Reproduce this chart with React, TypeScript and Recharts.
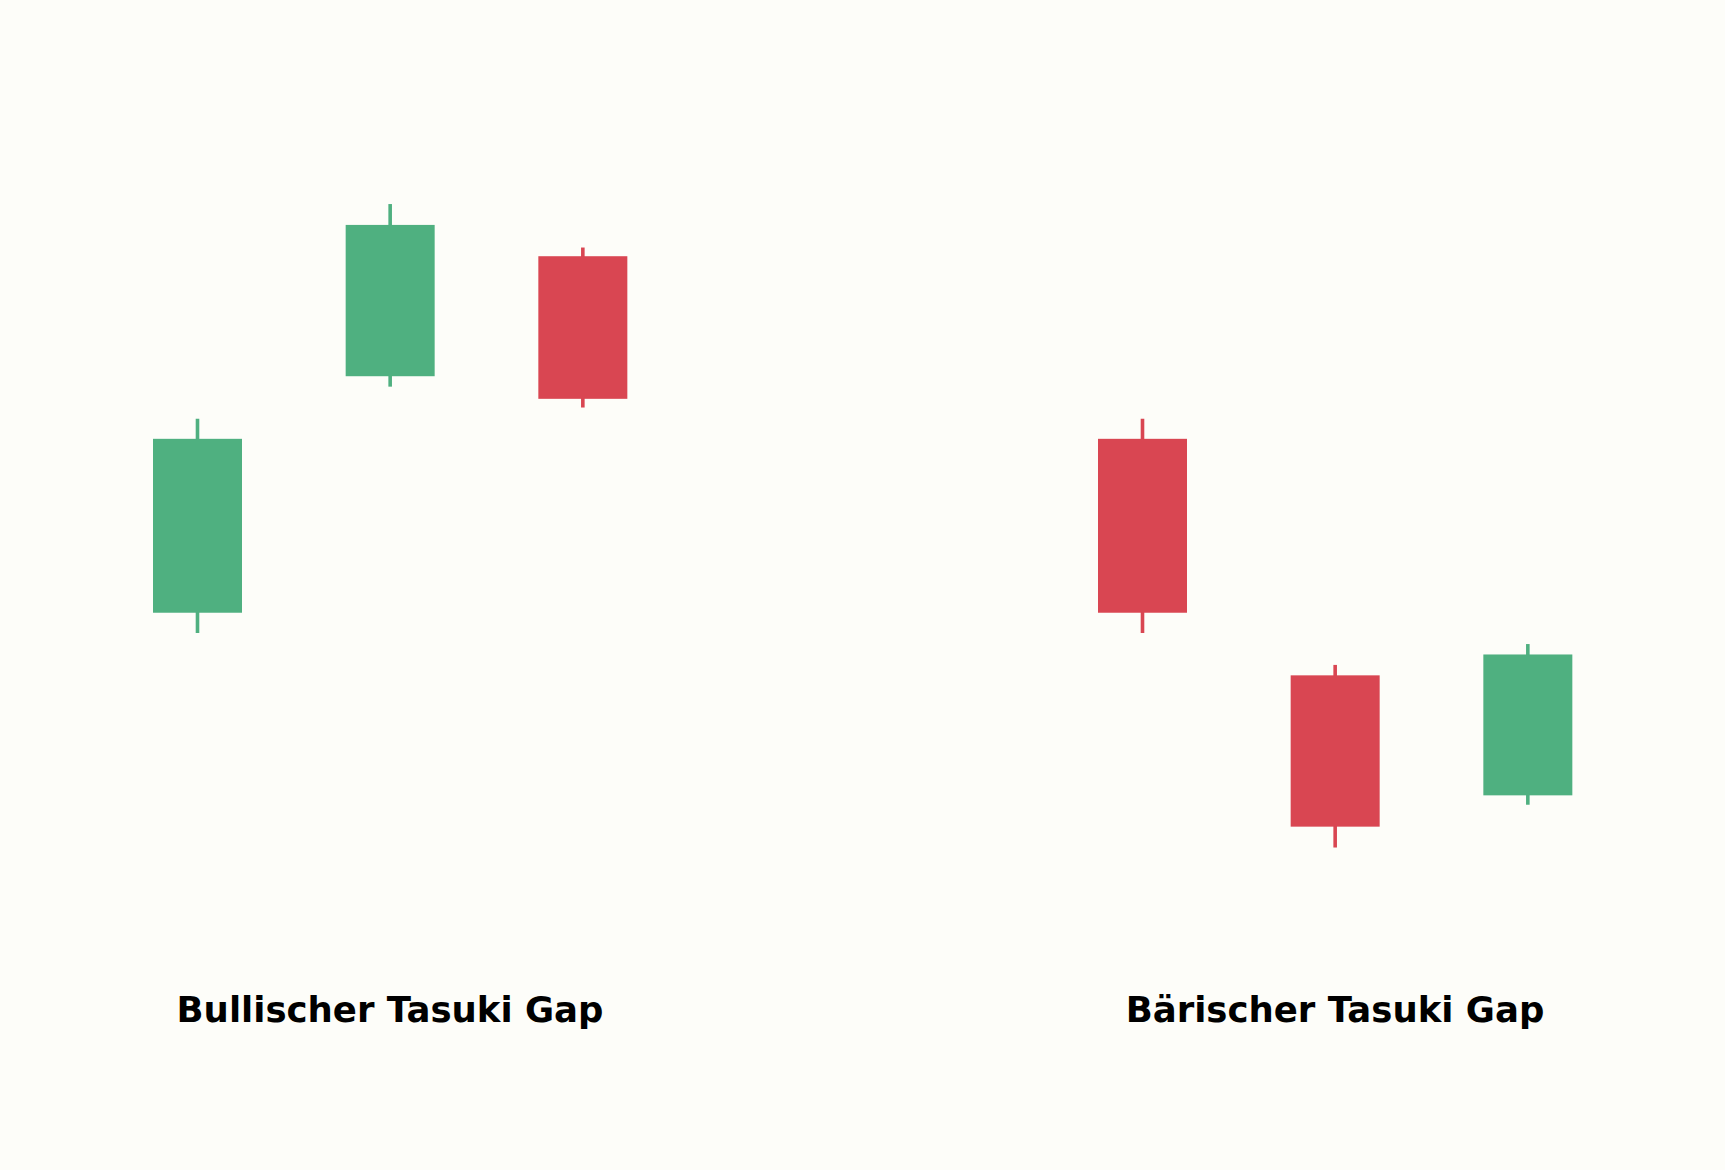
import { BarChart, Bar, XAxis, YAxis } from "recharts"

// candle slots in each pattern
const categories = ["1", "2", "3"]

// Bullischer Tasuki Gap
const bullOpen = [100, 106.8, 110.25]
const bullClose = [105, 111.15, 106.15]
const bullHigh = [105.58, 111.75, 110.5]
const bullLow = [99.42, 106.5, 105.9]

// Bärischer Tasuki Gap
const bearOpen = [105, 98.2, 94.75]
const bearClose = [100, 93.85, 98.8]
const bearHigh = [105.58, 98.5, 99.1]
const bearLow = [99.42, 93.25, 94.48]

const titles = ["Bullischer Tasuki Gap", "Bärischer Tasuki Gap"]

const GREEN = "#4FB080"
const RED = "#D94652"
const BG = "#FDFDF9"

type Row = { name: string; open: number; close: number; high: number; low: number; range: [number, number] }

const build = (o: number[], c: number[], h: number[], l: number[]): Row[] =>
  categories.map((name, i) => ({ name, open: o[i], close: c[i], high: h[i], low: l[i], range: [l[i], h[i]] }))

const bullData = build(bullOpen, bullClose, bullHigh, bullLow)
const bearData = build(bearOpen, bearClose, bearHigh, bearLow)

function Candle(props: any) {
  const { x, y, width, height } = props
  const d: Row = props.payload ?? props
  const top = Math.min(y, y + height)
  const h = Math.abs(height)
  const span = d.high - d.low || 1
  const py = (v: number) => top + ((d.high - v) / span) * h
  const color = d.close >= d.open ? GREEN : RED
  const bodyTop = py(Math.max(d.open, d.close))
  const bodyBottom = py(Math.min(d.open, d.close))
  const cx = x + width / 2
  return (
    <g>
      <line x1={cx} x2={cx} y1={top} y2={top + h} stroke={color} strokeWidth={3.6} />
      <rect x={x} y={bodyTop} width={width} height={bodyBottom - bodyTop} fill={color} />
    </g>
  )
}

function Pattern({ data, left, width, title }: { data: Row[]; left: number; width: number; title: string }) {
  return (
    <div style={{ position: "absolute", left, top: 0, width, height: 1170 }}>
      <BarChart width={width} height={891} data={data} margin={{ top: 91, right: 0, bottom: 0, left: 0 }} barCategoryGap={0}>
        <XAxis dataKey="name" hide />
        <YAxis hide type="number" domain={[92, 115]} allowDataOverflow />
        <Bar dataKey="range" barSize={89} shape={<Candle />} isAnimationActive={false} />
      </BarChart>
      <div
        style={{
          position: "absolute",
          left: -200,
          width: width + 400,
          top: 992,
          textAlign: "center",
          fontFamily: "'DejaVu Sans'",
          fontWeight: "bold",
          fontSize: 35.5,
          lineHeight: "35px",
          color: "#000",
          whiteSpace: "nowrap",
        }}
      >
        {title}
      </div>
    </div>
  )
}

export default function App() {
  return (
    <div style={{ position: "absolute", left: 0, top: 0, width: 1725, height: 1170, background: BG, overflow: "hidden" }}>
      <Pattern data={bullData} left={101} width={578} title={titles[0]} />
      <Pattern data={bearData} left={1046} width={578} title={titles[1]} />
    </div>
  )
}
